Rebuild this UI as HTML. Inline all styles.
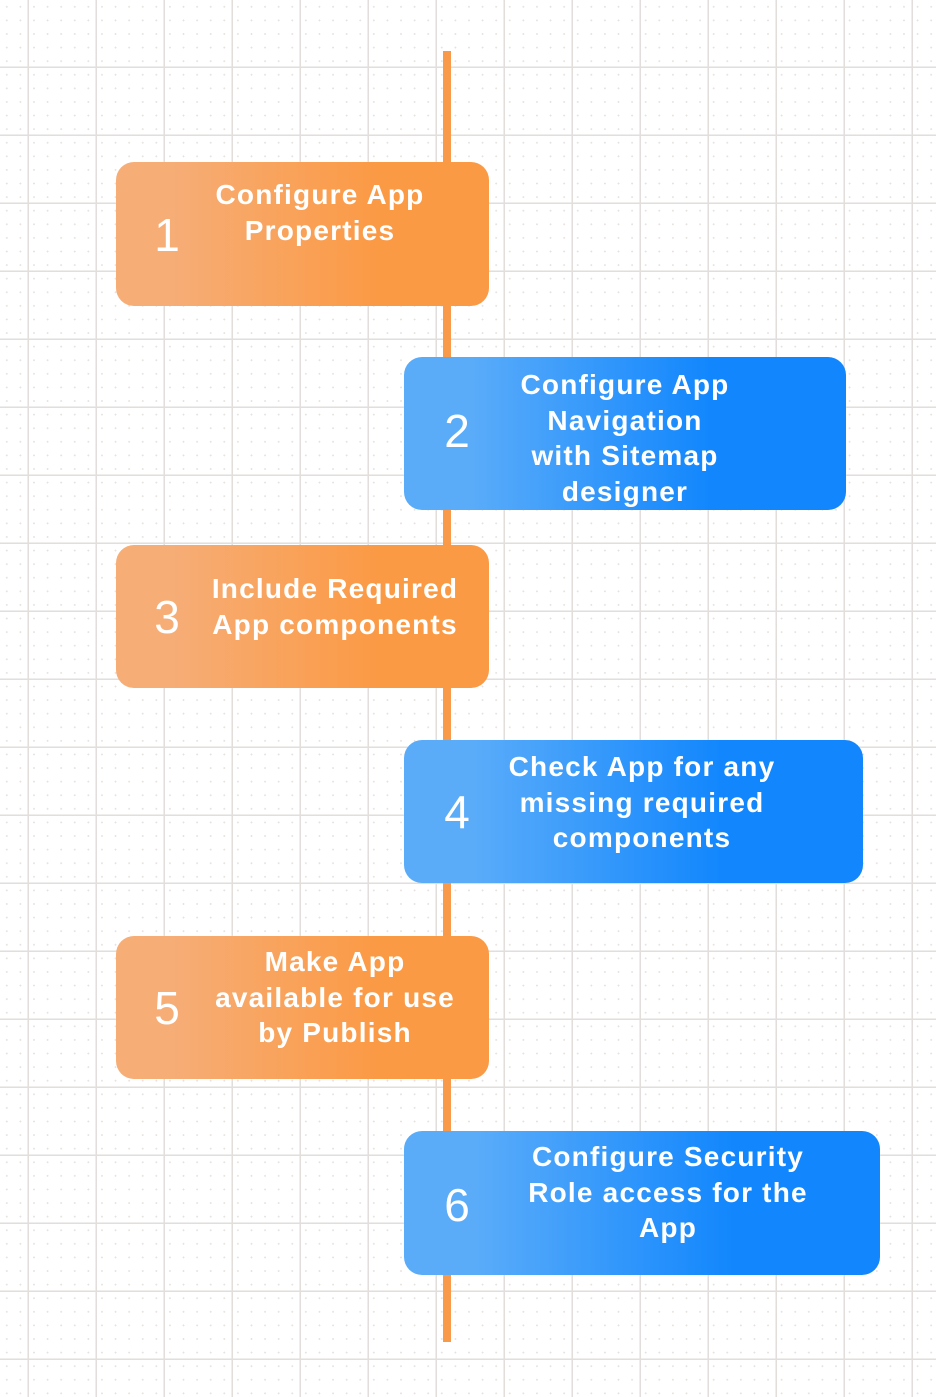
<!DOCTYPE html><html><head><style>
body{margin:0;width:936px;height:1397px;overflow:hidden;position:relative;background:#fff;
background-image:linear-gradient(#e2dedb 1.5px,transparent 1.5px),linear-gradient(90deg,#e2dedb 1.5px,transparent 1.5px),
radial-gradient(#e6e2df 0.8px,transparent 0.9px);
background-size:68px 68px,68px 68px,13.6px 13.6px;background-position:0 66.5px,27.5px 0,0 0;
font-family:"Liberation Sans",sans-serif}
.line{position:absolute;left:443px;width:8px;top:51px;height:1291px;background:#f99a4a}
.b{position:absolute;border-radius:18px;color:#fff}
.o{left:116px;width:373px;background:linear-gradient(90deg,#f6ad76 0%,#f6ad76 15%,#fb9a45 70%,#fb9a45 100%)}
.u{left:404px;background:linear-gradient(90deg,#5aacf9 0%,#5aacf9 15%,#1186fd 70%,#1186fd 100%)}
.n{position:absolute;font-size:46px;line-height:46px;width:60px;text-align:center;margin-top:-23px}
.t{position:absolute;font-weight:bold;font-size:28px;letter-spacing:1.2px;line-height:35.5px;text-align:center;white-space:nowrap;transform:translateX(-50%)}
</style></head><body>
<div class="line"></div>
<div class="b o" style="top:162px;height:144px"><div class="n" style="left:21px;top:73px">1</div><div class="t" style="left:204px;top:15px">Configure App<br>Properties</div></div>
<div class="b u" style="top:357px;height:153px;width:442px"><div class="n" style="left:23px;top:74px">2</div><div class="t" style="left:221px;top:10px">Configure App<br>Navigation<br>with Sitemap<br>designer</div></div>
<div class="b o" style="top:545px;height:143px"><div class="n" style="left:21px;top:72px">3</div><div class="t" style="left:219px;top:26px">Include Required<br>App components</div></div>
<div class="b u" style="top:740px;height:143px;width:459px"><div class="n" style="left:23px;top:72px">4</div><div class="t" style="left:238px;top:9px">Check App for any<br>missing required<br>components</div></div>
<div class="b o" style="top:936px;height:143px"><div class="n" style="left:21px;top:72px">5</div><div class="t" style="left:219px;top:8px">Make App<br>available for use<br>by Publish</div></div>
<div class="b u" style="top:1131px;height:144px;width:476px"><div class="n" style="left:23px;top:74px">6</div><div class="t" style="left:264px;top:8px">Configure Security<br>Role access for the<br>App</div></div>
</body></html>
